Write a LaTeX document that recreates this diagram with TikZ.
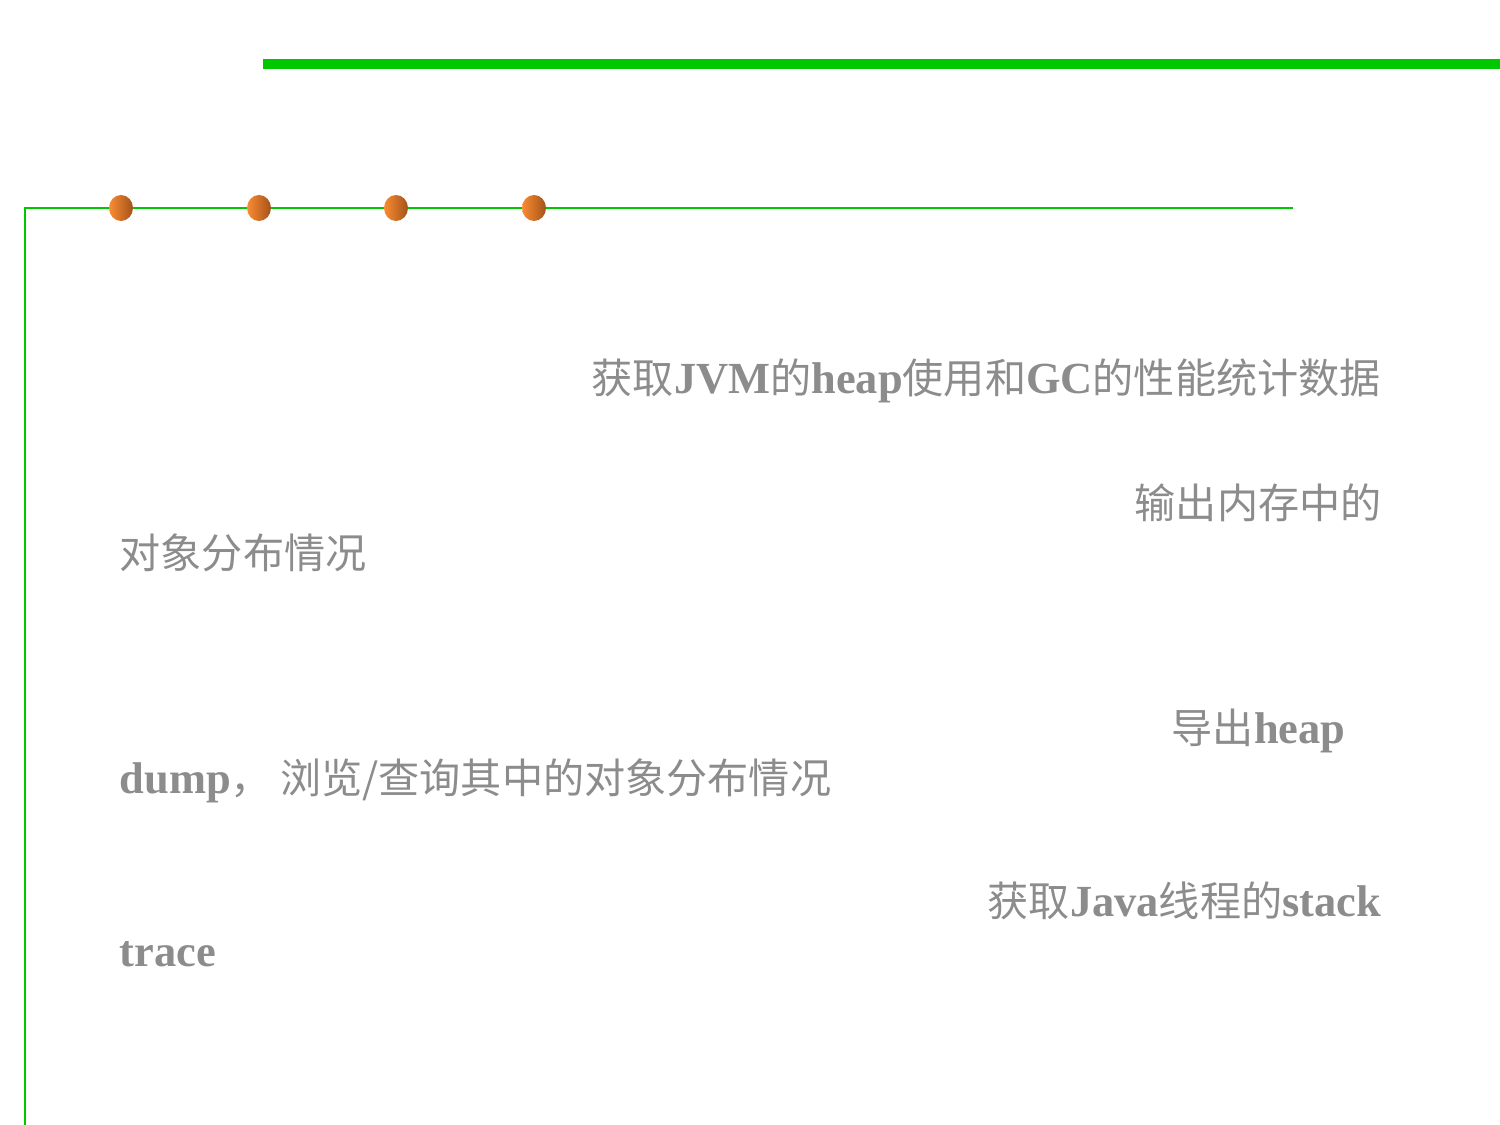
\documentclass[tikz,border=0pt]{standalone}
\usepackage{fontspec}
\usepackage{tikz}
\usetikzlibrary{shapes.geometric}
\setmainfont{Liberation Serif}[Scale=1.08]
\newfontfamily\cjk{Noto Sans CJK SC}
\definecolor{slidegreen}{HTML}{00C800}
\definecolor{dotlight}{HTML}{FA8C32}
\definecolor{dotdark}{HTML}{A3521A}
\definecolor{slidegrey}{HTML}{8C8C8C}
\tikzstyle{ball}=[ellipse, inner sep=0pt, minimum width=0.24cm, minimum height=0.26cm, left color=dotlight, right color=dotdark, draw=none]
\tikzstyle{itemline}=[anchor=base west, inner sep=0pt, text=slidegrey, font=\fontsize{11.7pt}{14pt}\selectfont\bfseries]
\newcommand{\zh}[1]{{\cjk\mdseries #1}}
\newcommand{\ball}{\node[ball]}
\newcommand{\itemline}{\node[itemline]}

\begin{document}
\begin{tikzpicture}[x=0.01cm, y=-0.01cm]
\useasboundingbox (0,0) rectangle (1500,1125);
    % rules
    \draw[slidegreen, line width=2.85pt] (263,64) -- (1500,64);
    \draw[slidegreen, line width=0.7pt] (25,1125) -- (25,208) -- (1293,208);

    \ball (d1) at (121,208) {};
    \ball (d2) at (259,208) {};
    \ball (d3) at (396,208) {};
    \ball (d4) at (534,208) {};

    \itemline (jstat) at (591,394) {\zh{获取}JVM\zh{的}heap\zh{使用和}GC\zh{的性能统计数据}};
    \itemline (histoa) at (1134,519) {\zh{输出内存中的}};
    \itemline (histob) at (119,569) {\zh{对象分布情况}};
    \itemline (dumpa) at (1171,744) {\zh{导出}heap};
    \itemline (dumpb) at (119,794) {dump\zh{，\kern0.2em 浏览/查询其中的对象分布情况}};
    \itemline (stacka) at (987,916) {\zh{获取}Java\zh{线程的}stack};
    \itemline (stackb) at (119,966) {trace};
\end{tikzpicture}
\end{document}
